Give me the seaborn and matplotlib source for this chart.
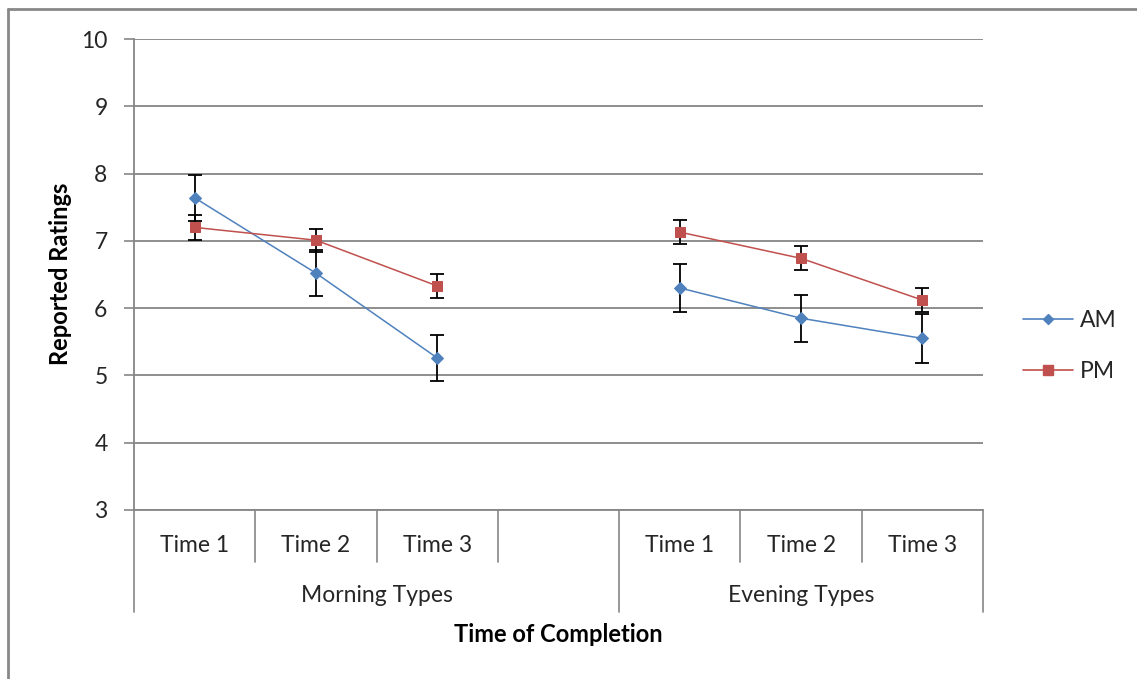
import numpy as np
import pandas as pd
import matplotlib
matplotlib.use("Agg")
import matplotlib.pyplot as plt
from matplotlib.lines import Line2D
from matplotlib.transforms import blended_transform_factory
import seaborn as sns

# ---- data ----
groups = ["Morning Types", "Evening Types"]
times = ["Time 1", "Time 2", "Time 3"]
categories = ["Time 1", "Time 2", "Time 3", "", "Time 1", "Time 2", "Time 3"]
am_values = [7.64, 6.52, 5.26, np.nan, 6.30, 5.85, 5.55]
am_errors = [0.34, 0.34, 0.34, np.nan, 0.35, 0.35, 0.36]
pm_values = [7.20, 7.01, 6.33, np.nan, 7.13, 6.74, 6.12]
pm_errors = [0.18, 0.17, 0.18, np.nan, 0.18, 0.18, 0.18]
y_ticks = [3, 4, 5, 6, 7, 8, 9, 10]

sns.set_theme(style="white")
plt.rcParams["font.family"] = ["Lato", "DejaVu Sans"]

AM_COLOR = "#4F81BD"
PM_COLOR = "#C0504D"
GRID = "#868686"
TXT = "#262626"
FS = 16.5

fig = plt.figure(figsize=(11.37, 6.79), dpi=100)
ax = fig.add_axes([134 / 1137, 1 - 510 / 679, (983 - 134) / 1137, (510 - 39) / 679])

pos = np.arange(len(categories))
rows = []
for i, (a, p) in enumerate(zip(am_values, pm_values)):
    seg = 0 if i < 3 else 1
    rows.append({"x": i, "value": a, "series": "AM", "seg": seg})
    rows.append({"x": i, "value": p, "series": "PM", "seg": seg})
df = pd.DataFrame(rows).dropna()

# error bars
ax.errorbar(pos, am_values, yerr=am_errors, fmt="none", ecolor="black",
            elinewidth=1.3, capsize=4.7, capthick=1.3, zorder=3)
ax.errorbar(pos, pm_values, yerr=pm_errors, fmt="none", ecolor="black",
            elinewidth=1.3, capsize=4.7, capthick=1.3, zorder=3)

for s, col, mk, ms in [("AM", AM_COLOR, "D", 6), ("PM", PM_COLOR, "s", 7.5)]:
    for seg in [0, 1]:
        d = df[(df.series == s) & (df.seg == seg)]
        sns.lineplot(data=d, x="x", y="value", ax=ax, color=col, marker=mk,
                     markersize=ms, markeredgecolor=col, linewidth=1.1,
                     legend=False, zorder=4)

ax.set_xlim(-0.5, len(categories) - 0.5)
ax.set_ylim(3, 10)
ax.set_yticks(y_ticks)
ax.set_yticklabels([str(v) for v in y_ticks], fontsize=FS, color=TXT)
ax.set_xticks([])
ax.set_xlabel("")
ax.set_ylabel("")
fig.text(60 / 1137, 1 - 274 / 679, "Reported Ratings", rotation=90, ha="center", va="center",
         fontsize=17, fontweight="bold", color="black")
ax.yaxis.grid(True, color=GRID, linewidth=1.3)
ax.tick_params(axis="y", length=7, width=1.2, color=GRID, pad=12, left=True)
for sp in ["top", "right"]:
    ax.spines[sp].set_visible(False)
ax.spines["left"].set_color(GRID)
ax.spines["left"].set_linewidth(1.3)
ax.spines["bottom"].set_color(GRID)
ax.spines["bottom"].set_linewidth(1.3)

# multi-level category axis
tr = blended_transform_factory(ax.transData, ax.transAxes)
short = -52 / 471
long_ = -102 / 471
for xb in [0.5, 1.5, 2.5, 4.5, 5.5]:
    ax.add_line(Line2D([xb, xb], [0, short], transform=tr, color=GRID, lw=1.2, clip_on=False))
for xb in [-0.5, 3.5, 6.5]:
    ax.add_line(Line2D([xb, xb], [0, long_], transform=tr, color=GRID, lw=1.2, clip_on=False))
for i, c in enumerate(categories):
    if c:
        ax.text(i, -35 / 471, c, transform=tr, ha="center", va="center", fontsize=FS, color=TXT)
ax.text(1.5, -86 / 471, groups[0], transform=tr, ha="center", va="center", fontsize=FS, color=TXT)
ax.text(5.0, -86 / 471, groups[1], transform=tr, ha="center", va="center", fontsize=FS, color=TXT)
ax.text(0.5, -125 / 471, "Time of Completion", transform=ax.transAxes, ha="center",
        va="center", fontsize=17, fontweight="bold", color="black")

# legend
handles = [Line2D([], [], color=AM_COLOR, marker="D", markersize=5, lw=1.2),
           Line2D([], [], color=PM_COLOR, marker="s", markersize=7, lw=1.2)]
fig.legend(handles, ["AM", "PM"], loc="center left", bbox_to_anchor=(1002 / 1137, 1 - 346 / 679),
           frameon=False, fontsize=FS, handlelength=2.2, labelspacing=1.3, handletextpad=0.3)

# outer chart frame (left and top edges)
fig.add_artist(Line2D([8 / 1137, 8 / 1137], [0, 1 - 9 / 679], transform=fig.transFigure, color="#888888", lw=2))
fig.add_artist(Line2D([8 / 1137, 1], [1 - 9 / 679, 1 - 9 / 679], transform=fig.transFigure, color="#888888", lw=2))

fig.savefig("out.png", dpi=100)
